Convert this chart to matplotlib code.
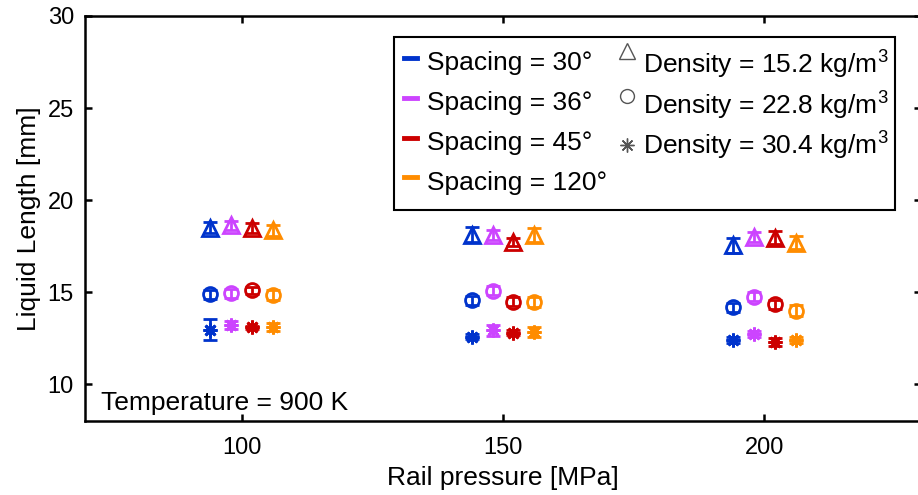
import numpy as np
import matplotlib
matplotlib.use("Agg")
import matplotlib.pyplot as plt
from matplotlib.lines import Line2D
from matplotlib.patches import Rectangle
from matplotlib.legend_handler import HandlerLine2D

plt.rcParams["font.family"] = ["Liberation Sans", "DejaVu Sans"]
plt.rcParams["mathtext.fontset"] = "custom"
plt.rcParams["mathtext.rm"] = "Liberation Sans"
plt.rcParams["mathtext.it"] = "Liberation Sans:italic"

# ---- data -------------------------------------------------------------
pressures = [100, 150, 200]                      # rail pressure [MPa]
spacings = ["30°", "36°", "45°", "120°"]
densities = ["15.2", "22.8", "30.4"]             # kg/m^3
offsets = [-6, -2, 2, 6]                         # x shift per spacing
colors = ["#0033cc", "#cc44ff", "#cc0000", "#ff8c00"]

# liquid length [mm]; one row per spacing, one column per pressure
ll_d152 = [[18.50, 18.13, 17.55],
           [18.62, 18.10, 18.00],
           [18.48, 17.73, 17.95],
           [18.37, 18.10, 17.68]]
err_d152 = [[0.30, 0.40, 0.40],
            [0.25, 0.25, 0.25],
            [0.25, 0.20, 0.35],
            [0.30, 0.40, 0.35]]

ll_d228 = [[14.89, 14.55, 14.17],
           [14.93, 15.07, 14.75],
           [15.09, 14.49, 14.33],
           [14.84, 14.46, 14.00]]
err_d228 = [[0.25, 0.25, 0.25],
            [0.25, 0.25, 0.25],
            [0.20, 0.25, 0.25],
            [0.25, 0.25, 0.30]]

ll_d304 = [[12.97, 12.59, 12.39],
           [13.22, 12.93, 12.73],
           [13.08, 12.80, 12.30],
           [13.10, 12.83, 12.39]]
err_d304 = [[0.55, 0.15, 0.15],
            [0.20, 0.30, 0.15],
            [0.10, 0.15, 0.20],
            [0.20, 0.25, 0.15]]

series = [(ll_d152, err_d152, "^", 11),
          (ll_d228, err_d228, "o", 10),
          (ll_d304, err_d304, (8, 2, 0), 10)]

# ---- figure -----------------------------------------------------------
W, H = 918, 495
fig = plt.figure(figsize=(W / 100, H / 100), dpi=100)
ax = fig.add_axes([85 / W, 74 / H, 836 / W, 405 / H])

for values, errors, marker, ms in series:
    for i, color in enumerate(colors):
        x = [p + offsets[i] for p in pressures]
        ax.errorbar(x, values[i], yerr=errors[i], fmt="none", ecolor=color,
                    elinewidth=2.0, capsize=5, capthick=2.0)
        ax.plot(x, values[i], ls="none", marker=marker, color=color,
                mfc="none", mec=color, mew=2.0, ms=ms)

ax.set_xlim(70, 230)
ax.set_ylim(8, 30)
ax.set_xticks([100, 150, 200])
ax.set_yticks([10, 15, 20, 25, 30])
ax.tick_params(direction="in", length=5, width=1.8, labelsize=17,
               top=True, right=True)
ax.tick_params(axis="y", pad=8)
ax.tick_params(axis="x", pad=11.5)
for s in ax.spines.values():
    s.set_linewidth(1.8)

ax.set_xlabel("Rail pressure [MPa]", fontsize=19, labelpad=5)
ax.set_ylabel("Liquid Length [mm]", fontsize=19, labelpad=5)

ax.text(0.019, 0.045, "Temperature = 900 K", transform=ax.transAxes,
        fontsize=19, ha="left", va="center")


# ---- legend -----------------------------------------------------------
class RaisedHandler(HandlerLine2D):
    """Line/marker legend handle shifted upward by a fraction of the font size."""

    def __init__(self, dy, **kw):
        super().__init__(**kw)
        self.dy = dy

    def create_artists(self, legend, orig_handle, xdescent, ydescent,
                       width, height, fontsize, trans):
        arts = super().create_artists(legend, orig_handle, xdescent, ydescent,
                                      width, height, fontsize, trans)
        for a in arts:
            a.set_ydata(np.asarray(a.get_ydata(), float) + self.dy * fontsize)
        return arts


leg_style = dict(numpoints=1, loc="upper left", bbox_transform=fig.transFigure,
                 borderaxespad=0, fontsize=19, frameon=False,
                 handlelength=0.5, handletextpad=0.35, borderpad=0.35)

sp_handles, sp_labels, sp_map = [], [], {}
for sp, c in zip(spacings, colors):
    h = Line2D([], [], color=c, lw=3.5)
    sp_handles.append(h)
    sp_labels.append(f"Spacing = {sp}")
    sp_map[h] = RaisedHandler(0.12)

de_handles, de_labels, de_map = [], [], {}
raise_by = [0.52, 0.32, 0.02]
for d, (_, _, marker, ms), dy in zip(densities, series, raise_by):
    h = Line2D([], [], color="#555555", marker=marker, ls="none",
               mfc="none", mec="#555555", ms=ms, mew=1.0)
    de_handles.append(h)
    de_labels.append(f"Density = {d} kg/m$^3$")
    de_map[h] = RaisedHandler(dy)

leg1 = ax.legend(sp_handles, sp_labels, handler_map=sp_map,
                 bbox_to_anchor=(395 / W, 1 - 42 / H), labelspacing=0.6,
                 **leg_style)
ax.add_artist(leg1)
leg2 = ax.legend(de_handles, de_labels, handler_map=de_map,
                 bbox_to_anchor=(611 / W, 1 - 40 / H), labelspacing=0.3,
                 **leg_style)

# shared frame around both legend columns
fig.add_artist(Rectangle((394 / W, 1 - 210 / H), 501 / W, 173 / H,
                         transform=fig.transFigure, fill=False,
                         edgecolor="black", linewidth=1.5))

fig.savefig("out.png", dpi=100)
